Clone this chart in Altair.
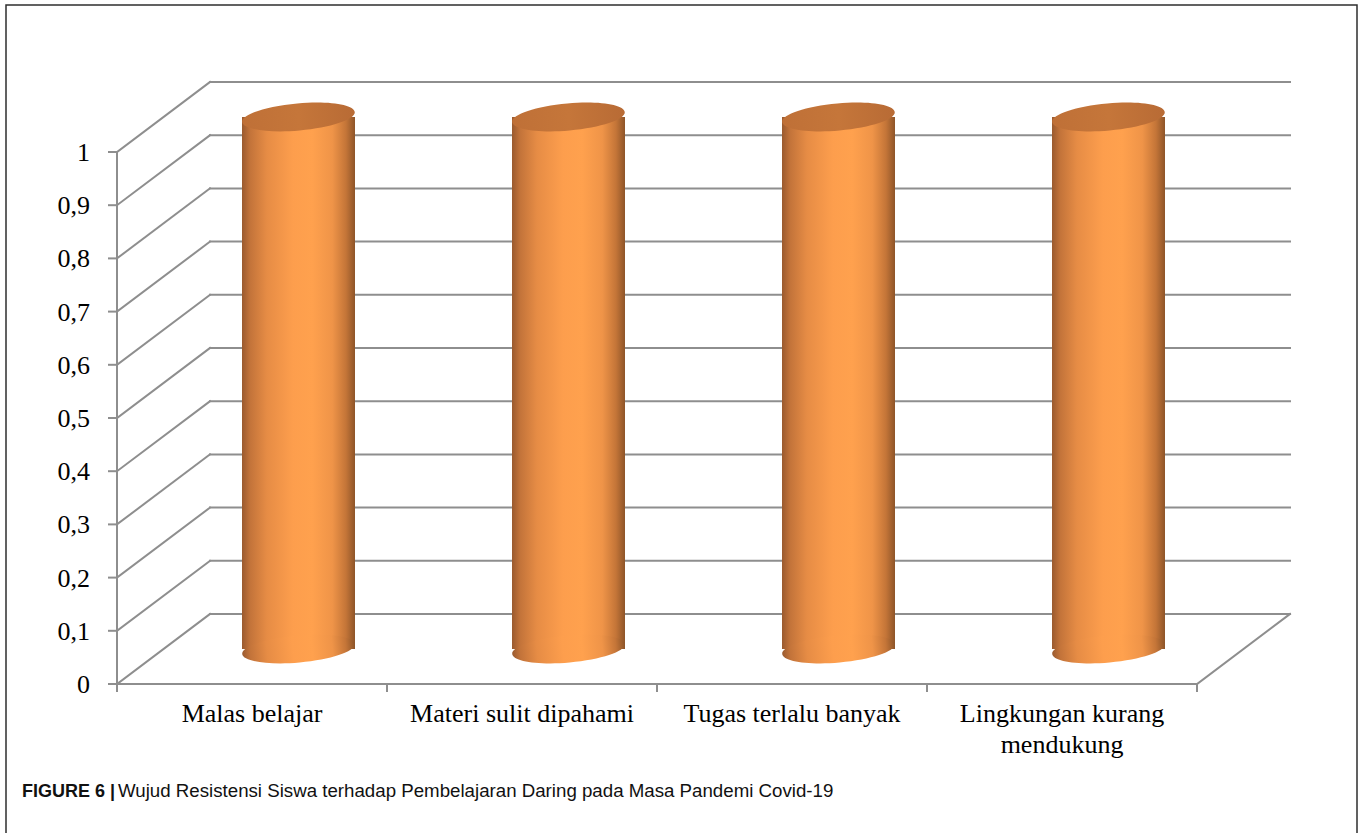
import altair as alt
import pandas as pd

# ---- data -------------------------------------------------------------
categories = [
    "Malas belajar",
    "Materi sulit dipahami",
    "Tugas terlalu banyak",
    "Lingkungan kurang\nmendukung",
]
values = [1, 1, 1, 1]
tick_values = [0, 0.1, 0.2, 0.3, 0.4, 0.5, 0.6, 0.7, 0.8, 0.9, 1.0]
tick_labels = ["0", "0,1", "0,2", "0,3", "0,4", "0,5", "0,6", "0,7", "0,8", "0,9", "1"]

caption_bold = "FIGURE 6 |"
caption_text = "Wujud Resistensi Siswa terhadap Pembelajaran Daring pada Masa Pandemi Covid-19"

# ---- layout -----------------------------------------------------------
W, H = 1363, 833
X0, SX = 117, 270          # pixel of the front-left floor corner, px per category
Y0, SY = 684, 532          # pixel of value 0 on the front axis, px per unit value
DEPTH_X = 93 / SX          # receding depth of the 3-D box, in category units
DEPTH_Y = 70 / SY          # same depth, in value units
CYL_PX = 113               # cylinder diameter in pixels
HALF_W = CYL_PX / 2 / SX
n = len(categories)

xscale = alt.Scale(domain=[(0 - X0) / SX, (W - X0) / SX], nice=False, zero=False)
yscale = alt.Scale(domain=[(Y0 - H) / SY, Y0 / SY], nice=False, zero=False)

GRID = "#8e8e8e"
SERIF = "Liberation Serif"
SANS = "Liberation Sans"

# ---- grid / walls -----------------------------------------------------
segs = []
top = max(tick_values)
for v in tick_values:
    segs.append(dict(x=0, y=v, x2=DEPTH_X, y2=v + DEPTH_Y))            # side wall
    segs.append(dict(x=DEPTH_X, y=v + DEPTH_Y, x2=n + DEPTH_X, y2=v + DEPTH_Y))  # back wall
    segs.append(dict(x=-8 / SX, y=v, x2=0, y2=v))                        # axis tick
segs.append(dict(x=0, y=0, x2=n, y2=0))                                  # floor front
segs.append(dict(x=n, y=0, x2=n + DEPTH_X, y2=DEPTH_Y))                  # floor right
segs.append(dict(x=0, y=0, x2=0, y2=top))                                # value axis
for i in range(n + 1):
    segs.append(dict(x=i, y=0, x2=i, y2=-7 / SY))                        # category ticks
seg_df = pd.DataFrame(segs)

grid = alt.Chart(seg_df).mark_rule(color=GRID, strokeWidth=2, strokeCap="square").encode(
    x=alt.X("x:Q", scale=xscale, axis=None),
    x2="x2:Q",
    y=alt.Y("y:Q", scale=yscale, axis=None),
    y2="y2:Q",
)

# ---- cylinders --------------------------------------------------------
centers = [i + 0.5 + DEPTH_X / 2 for i in range(n)]
cyl_df = pd.DataFrame({
    "cat": categories,
    "xc": centers,
    "xl": [c - HALF_W for c in centers],
    "xr": [c + HALF_W for c in centers],
    "base": [DEPTH_Y / 2] * n,
    "top": [v + DEPTH_Y / 2 for v in values],
})

body_grad = {
    "gradient": "linear", "x1": 0, "y1": 0, "x2": 1, "y2": 0,
    "stops": [
        {"offset": 0.0, "color": "#9a5a2f"},
        {"offset": 0.07, "color": "#c2733a"},
        {"offset": 0.22, "color": "#e68c45"},
        {"offset": 0.45, "color": "#fd9e4d"},
        {"offset": 0.62, "color": "#ffa14e"},
        {"offset": 0.80, "color": "#ef9448"},
        {"offset": 0.92, "color": "#c47538"},
        {"offset": 1.0, "color": "#8e5529"},
    ],
}
cap_grad = {
    "gradient": "linear", "x1": 0, "y1": 0, "x2": 1, "y2": 0,
    "stops": [
        {"offset": 0.0, "color": "#bf7037"},
        {"offset": 0.5, "color": "#c5763a"},
        {"offset": 1.0, "color": "#b86b35"},
    ],
}

ELLIPSE = "M -1 0 A 1 0.24 0 1 0 1 0 A 1 0.24 0 1 0 -1 0 Z"

body = alt.Chart(cyl_df).mark_rect(fill=body_grad, strokeWidth=0).encode(
    x=alt.X("xl:Q", scale=xscale, axis=None),
    x2="xr:Q",
    y=alt.Y("base:Q", scale=yscale, axis=None),
    y2="top:Q",
)

bottom = alt.Chart(cyl_df).mark_point(
    shape=ELLIPSE, filled=True, fill=body_grad, size=CYL_PX ** 2,
    angle=355, opacity=1, strokeWidth=0,
).encode(
    x=alt.X("xc:Q", scale=xscale, axis=None),
    y=alt.Y("base:Q", scale=yscale, axis=None),
)

cap = alt.Chart(cyl_df).mark_point(
    shape=ELLIPSE, filled=True, fill=cap_grad, size=CYL_PX ** 2,
    angle=355, opacity=1, strokeWidth=0,
).encode(
    x=alt.X("xc:Q", scale=xscale, axis=None),
    y=alt.Y("top:Q", scale=yscale, axis=None),
)

# ---- labels -----------------------------------------------------------
tick_df = pd.DataFrame({"x": [0] * len(tick_values), "y": tick_values, "label": tick_labels})
tick_text = alt.Chart(tick_df).mark_text(
    align="right", baseline="alphabetic", dx=-27, dy=9,
    font=SERIF, fontSize=26, color="#000000",
).encode(
    x=alt.X("x:Q", scale=xscale, axis=None),
    y=alt.Y("y:Q", scale=yscale, axis=None),
    text="label:N",
)

cat_df = pd.DataFrame({"x": [i + 0.5 for i in range(n)], "y": [0] * n, "label": categories})
cat_text = alt.Chart(cat_df).mark_text(
    align="center", baseline="alphabetic", dy=38, lineBreak="\n", lineHeight=31,
    font=SERIF, fontSize=26, color="#000000",
).encode(
    x=alt.X("x:Q", scale=xscale, axis=None),
    y=alt.Y("y:Q", scale=yscale, axis=None),
    text="label:N",
)

cap_df = pd.DataFrame({"t": [caption_bold]})
cap_df2 = pd.DataFrame({"t": [caption_text]})
caption_b = alt.Chart(cap_df).mark_text(
    align="left", baseline="alphabetic", font=SANS, fontSize=18, fontWeight="bold", color="#111111",
).encode(x=alt.value(22), y=alt.value(797), text="t:N")
caption_r = alt.Chart(cap_df2).mark_text(
    align="left", baseline="alphabetic", font=SANS, fontSize=18.7, color="#111111",
).encode(x=alt.value(118), y=alt.value(797), text="t:N")

# ---- outer frame ------------------------------------------------------
frame = alt.Chart(pd.DataFrame({"f": [0]})).mark_rect(
    fillOpacity=0, stroke="#2e2e2e", strokeWidth=1.5,
).encode(x=alt.value(6), x2=alt.value(1357), y=alt.value(5), y2=alt.value(900))

chart = alt.layer(
    grid, body, bottom, cap, tick_text, cat_text, caption_b, caption_r, frame
).properties(
    width=W, height=H, padding=0, background="#ffffff",
    autosize=alt.AutoSizeParams(type="none"),
).configure_view(strokeWidth=0)

chart.save("out.html", embed_options={"renderer": "svg", "actions": False})
